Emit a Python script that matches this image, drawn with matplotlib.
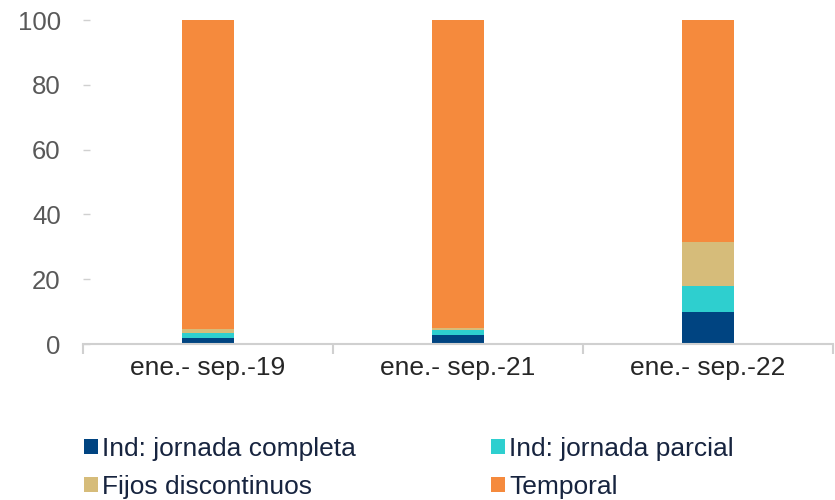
import matplotlib
matplotlib.use("Agg")
from matplotlib import pyplot as plt
from matplotlib.patches import Patch
import numpy as np

categories = ["ene.- sep.-19", "ene.- sep.-21", "ene.- sep.-22"]
series_names = ["Ind: jornada completa", "Ind: jornada parcial", "Fijos discontinuos", "Temporal"]
completa = [2.0, 2.7, 10.0]
parcial = [1.4, 1.7, 8.0]
fijos = [1.1, 0.6, 13.4]
temporal = [95.5, 95.0, 68.6]
y_ticks = [0, 20, 40, 60, 80, 100]

colors = ["#004481", "#2ECFCF", "#D6BC7A", "#F58A3D"]

plt.rcParams['font.family'] = ['Liberation Sans', 'DejaVu Sans']

fig = plt.figure(figsize=(8.35, 5.0), dpi=100)
ax = fig.add_axes([0.0994, 0.312, 0.898, 0.648])

x = np.arange(len(categories))
bottom = np.zeros(len(categories))
handles = []
for name, vals, col in zip(series_names, [completa, parcial, fijos, temporal], colors):
    ax.bar(x, vals, width=0.21, bottom=bottom, color=col, edgecolor='none')
    bottom += np.array(vals)
    handles.append(Patch(facecolor=col, edgecolor='none', label=name))

ax.set_xlim(-0.5, len(categories) - 0.5)
ax.set_ylim(0, 100)
ax.set_yticks(y_ticks)
ax.set_xticks(x)
ax.set_xticklabels(categories)

for s in ['top', 'right', 'left']:
    ax.spines[s].set_visible(False)
ax.spines['bottom'].set_color('#D0D0D0')
ax.spines['bottom'].set_linewidth(1.5)

# boundary ticks between categories
ax.set_xticks(np.arange(-0.5, len(categories), 1.0), minor=True)
ax.tick_params(axis='x', which='major', length=0, pad=9, labelsize=19, labelcolor='#262626')
ax.tick_params(axis='x', which='minor', length=7, width=1.5, color='#D0D0D0', direction='out')
ax.tick_params(axis='y', length=5, width=1, color='#D0D0D0', direction='in', pad=16,
               labelsize=18.5, labelcolor='#595959')

order = [0, 2, 1, 3]
fig.legend([handles[i] for i in order], [series_names[i] for i in order],
           ncol=2, loc='upper left', bbox_to_anchor=(0.0878, 0.147),
           frameon=False, fontsize=19, handlelength=0.55, handleheight=0.5,
           handletextpad=0.15, columnspacing=5.1, labelspacing=0.54,
           labelcolor='#17243F', borderaxespad=0)

fig.savefig("out.png", dpi=100)
